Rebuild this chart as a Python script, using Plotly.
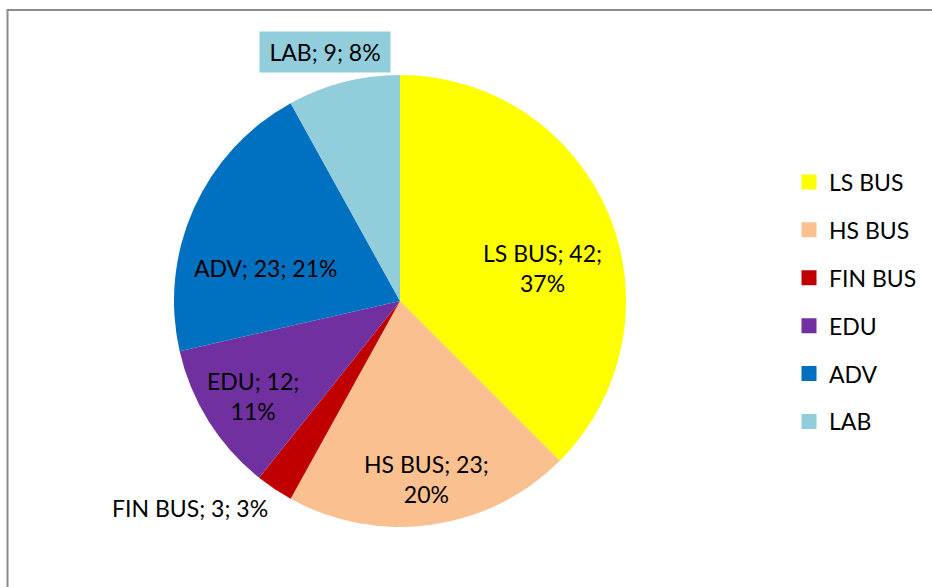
import plotly.graph_objects as go

labels = ["LS BUS", "HS BUS", "FIN BUS", "EDU", "ADV", "LAB"]
values = [42, 23, 3, 12, 23, 9]
pct_labels = [37, 20, 3, 11, 21, 8]
colors = ["#FFFF00", "#FAC090", "#C00000", "#7030A0", "#0070C0", "#92CDDC"]

# label layout (not data): line break style and pixel centre of each data label
breaks = ["<br>", "<br>", " ", "<br>", " ", " "]
label_px = [(542, 268), (426, 479), (190, 508), (253, 396), (265, 268), (325, 52)]
label_bg = [None, None, None, None, None, colors[5]]

W, H = 932, 587
FONT = "Lato"
FS = 23

texts = [f"{l}; {v};{b}{p}%" for l, v, b, p in zip(labels, values, breaks, pct_labels)]

cx, cy, R = 400, 301, 226

fig = go.Figure()
fig.add_trace(go.Pie(
    labels=labels, values=values, textinfo="none",
    sort=False, direction="clockwise", rotation=0,
    marker=dict(colors=colors, line=dict(width=0)),
    showlegend=False, hoverinfo="label+value+percent",
    domain=dict(x=[(cx - R) / W, (cx + R) / W], y=[(H - cy - R) / H, (H - cy + R) / H]),
))

for i, (l, c) in enumerate(zip(labels, colors)):
    fig.add_trace(go.Scatter(
        x=[None], y=[None], mode="markers", name=l, legendgroup=f"g{i}",
        marker=dict(symbol="square", size=15, color=c),
    ))

for t, (px, py), bg in zip(texts, label_px, label_bg):
    kw = dict(text=t, xref="paper", yref="paper", x=px / W, y=1 - py / H,
              xanchor="center", yanchor="middle",
              showarrow=False, align="center",
              font=dict(family=FONT, size=FS, color="#000000"))
    if bg:
        kw.update(bgcolor=bg, width=120, height=30, borderpad=5)
    fig.add_annotation(**kw)

fig.add_shape(type="rect", xref="paper", yref="paper",
              x0=7.5 / W, x1=1.2, y0=-0.2, y1=1 - 10 / H,
              line=dict(color="#8C8C8C", width=2), fillcolor="rgba(0,0,0,0)")

fig.update_layout(
    width=W, height=H, margin=dict(l=0, r=0, t=0, b=0),
    paper_bgcolor="white", plot_bgcolor="white",
    xaxis=dict(visible=False), yaxis=dict(visible=False),
    legend=dict(x=789 / W, y=1 - 160.5 / H, xanchor="left", yanchor="top",
                font=dict(family=FONT, size=FS, color="#000000"),
                tracegroupgap=15, bgcolor="rgba(0,0,0,0)"),
    font=dict(family=FONT),
)

fig.write_html("out.html", config={"displayModeBar": False},
               post_script="document.body.style.margin='0';document.body.style.overflow='hidden';")
